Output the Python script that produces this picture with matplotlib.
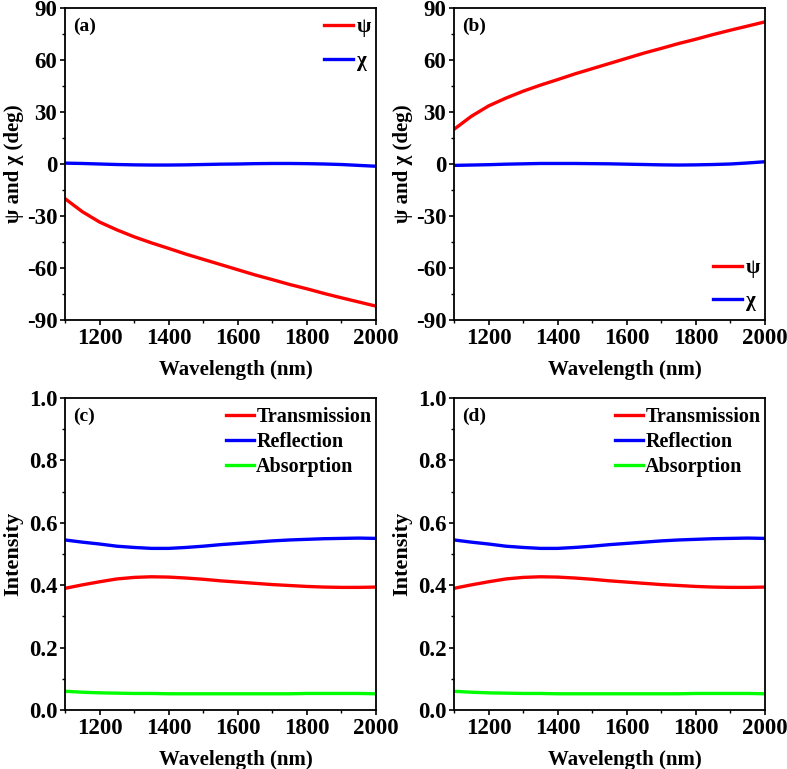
import matplotlib
matplotlib.use('Agg')
import matplotlib.pyplot as plt
from matplotlib.ticker import MultipleLocator

plt.rcParams['font.family'] = ['Liberation Serif', 'DejaVu Serif']
plt.rcParams['font.weight'] = 'bold'
plt.rcParams['axes.unicode_minus'] = False

# wavelength grid (nm)
wl = [1100, 1150, 1200, 1250, 1300, 1350, 1400, 1450, 1500, 1550,
      1600, 1650, 1700, 1750, 1800, 1850, 1900, 1950, 2000]

# panel (a)
psi_a = [-20, -27.5, -33.5, -38, -42, -45.5, -48.7, -52, -55, -58,
         -61, -64, -66.7, -69.5, -72, -74.7, -77.2, -79.6, -82]
chi_a = [0.5, 0.3, 0, -0.3, -0.5, -0.6, -0.6, -0.5, -0.3, -0.1,
         0, 0.2, 0.3, 0.3, 0.2, 0, -0.3, -0.8, -1.3]
# panel (b)
psi_b = [20, 27.5, 33.5, 38, 42, 45.5, 48.7, 52, 55, 58,
         61, 64, 66.7, 69.5, 72, 74.7, 77.2, 79.6, 82]
chi_b = [-0.8, -0.6, -0.4, -0.1, 0.1, 0.3, 0.3, 0.3, 0.2, 0.1,
         -0.1, -0.3, -0.5, -0.6, -0.5, -0.3, 0, 0.6, 1.3]

# panels (c) and (d)
trans = [0.390, 0.401, 0.411, 0.420, 0.425, 0.427, 0.426, 0.423, 0.419, 0.414,
         0.410, 0.406, 0.402, 0.399, 0.396, 0.394, 0.393, 0.393, 0.394]
refl = [0.545, 0.538, 0.532, 0.525, 0.521, 0.518, 0.518, 0.521, 0.525, 0.530,
        0.534, 0.538, 0.542, 0.545, 0.547, 0.549, 0.550, 0.551, 0.550]
absn = [0.060, 0.057, 0.055, 0.054, 0.053, 0.053, 0.052, 0.052, 0.052, 0.052,
        0.052, 0.052, 0.052, 0.052, 0.053, 0.053, 0.053, 0.053, 0.052]

TICK_FS = 16.5
LAB_FS = 15
LEG_FS = 14.5
LW = 2.4

fig = plt.figure(figsize=(7.87, 7.69), dpi=100)
W, H = 787.0, 769.0


def make_ax(left, top, right, bottom):
    return fig.add_axes([left / W, 1 - bottom / H, (right - left) / W, (bottom - top) / H])


def style(ax):
    ax.set_xlim(1100, 2000)
    ax.xaxis.set_major_locator(MultipleLocator(200))
    ax.xaxis.set_minor_locator(MultipleLocator(100))
    ax.tick_params(which='major', direction='out', length=3.5, width=1.2, labelsize=TICK_FS,
                   top=False, right=False, pad=2)
    ax.tick_params(which='minor', direction='out', length=2, width=1.0, top=False, right=False)
    for lab in ax.get_xticklabels() + ax.get_yticklabels():
        lab.set_fontweight('bold')
    for s in ax.spines.values():
        s.set_linewidth(1.3)
    ax.set_xlabel('Wavelength (nm)', fontsize=LAB_FS, fontweight='bold')
    ax.xaxis.set_label_coords(0.55, -0.127)


ax_a = make_ax(65, 8, 376, 320)
ax_b = make_ax(454, 8, 765, 320)
ax_c = make_ax(65, 398, 376, 710)
ax_d = make_ax(454, 398, 765, 710)

for ax, psi, chi, tag, anchor in [(ax_a, psi_a, chi_a, '(a)', (0.985, 0.97)),
                                  (ax_b, psi_b, chi_b, '(b)', (0.985, 0.199))]:
    ax.plot(wl, psi, color='#ff0000', lw=LW, label='ψ')
    ax.plot(wl, chi, color='#0000ff', lw=LW, label='χ')
    ax.set_ylim(-90, 90)
    ax.yaxis.set_major_locator(MultipleLocator(30))
    ax.yaxis.set_minor_locator(MultipleLocator(15))
    style(ax)
    ax.set_ylabel('ψ and χ (deg)', fontsize=LAB_FS, fontweight='bold')
    ax.yaxis.set_label_coords(-0.133, 0.5)
    ax.text(0.025, 0.97, tag, transform=ax.transAxes, fontsize=14, fontweight='bold',
            va='top', ha='left')
    ax.legend(loc='upper right', bbox_to_anchor=anchor, frameon=False, fontsize=15,
              handlelength=1.4, handletextpad=0.2, labelspacing=0.65,
              borderaxespad=0.0, borderpad=0.0)

for ax, tag in [(ax_c, '(c)'), (ax_d, '(d)')]:
    ax.plot(wl, trans, color='#ff0000', lw=LW, label='Transmission')
    ax.plot(wl, refl, color='#0000ff', lw=LW, label='Reflection')
    ax.plot(wl, absn, color='#00ff00', lw=LW, label='Absorption')
    ax.set_ylim(0, 1.0)
    ax.yaxis.set_major_locator(MultipleLocator(0.2))
    ax.yaxis.set_minor_locator(MultipleLocator(0.1))
    style(ax)
    ax.set_ylabel('Intensity', fontsize=16, fontweight='bold')
    ax.yaxis.set_label_coords(-0.134, 0.5)
    ax.text(0.025, 0.97, tag, transform=ax.transAxes, fontsize=14, fontweight='bold',
            va='top', ha='left')
    ax.legend(loc='upper right', frameon=False, fontsize=LEG_FS, handlelength=1.4,
              handletextpad=0.1, labelspacing=0.25, borderaxespad=0.0, borderpad=0.0,
              bbox_to_anchor=(0.985, 0.971))

fig.savefig('out.png', dpi=100)
